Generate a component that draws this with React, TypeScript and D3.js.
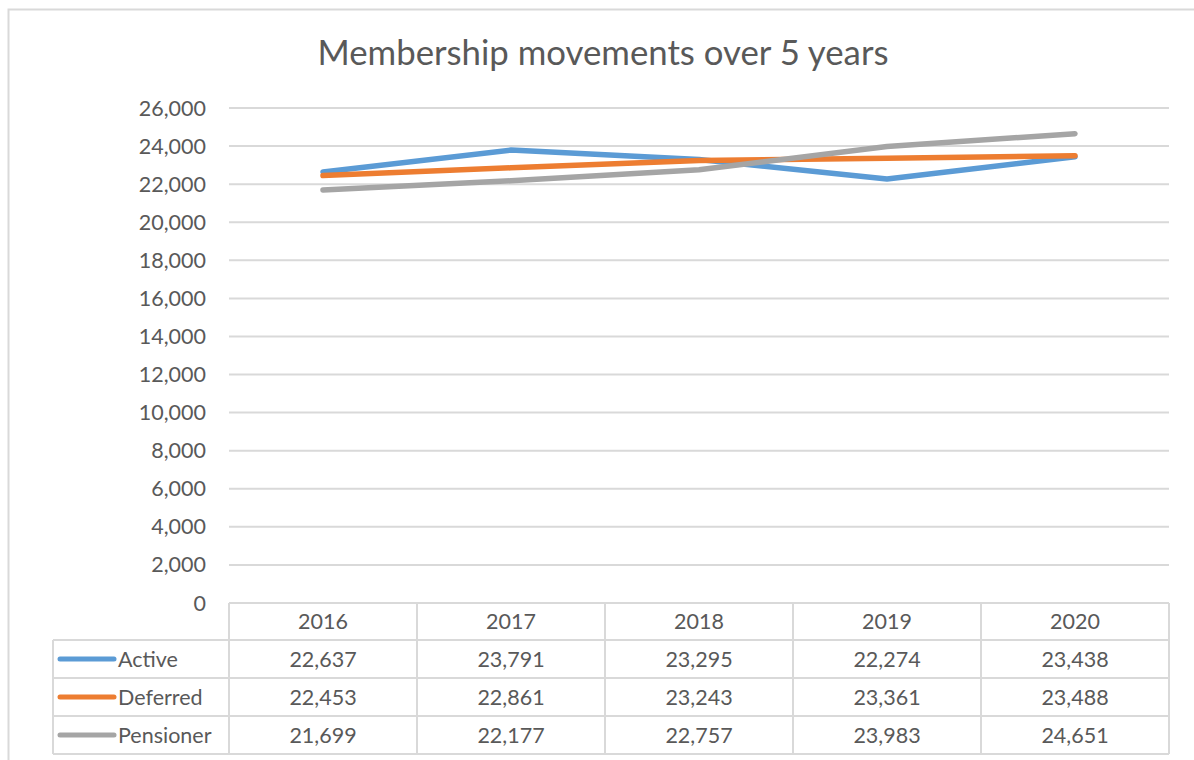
import React from "react";
import * as d3 from "d3";

const years = ["2016", "2017", "2018", "2019", "2020"];
const active = [22637, 23791, 23295, 22274, 23438];
const deferred = [22453, 22861, 23243, 23361, 23488];
const pensioner = [21699, 22177, 22757, 23983, 24651];
const seriesNames = ["Active", "Deferred", "Pensioner"];
const seriesColors = ["#5B9BD5", "#ED7D31", "#A5A5A5"];
const yTicks = [0, 2000, 4000, 6000, 8000, 10000, 12000, 14000, 16000, 18000, 20000, 22000, 24000, 26000];
const title = "Membership movements over 5 years";

const FONT = "Lato, 'Open Sans', sans-serif";
const TEXT = "#595959";
const GRID = "#D9D9D9";
const FS = 21.5;

export default function App() {
  const W = 1194, H = 760;
  const left = 229, right = 1169, top = 108, bottom = 603;
  const x = d3.scaleBand<string>().domain(years).range([left, right]);
  const y = d3.scaleLinear().domain([0, 26000]).range([bottom, top]);
  const fmt = d3.format(",");
  const allSeries = [active, deferred, pensioner];
  const line = d3.line<number>()
    .x((_, i) => (x(years[i]) as number) + x.bandwidth() / 2)
    .y((d) => y(d));

  const rowH = 38;
  const headerBottom = 640;
  const tableLeft = 53;
  const rowTops = [headerBottom, headerBottom + rowH, headerBottom + 2 * rowH];
  const tableBottom = headerBottom + 3 * rowH;

  return (
    <svg width={W} height={H} style={{ position: "absolute", left: 0, top: 0, background: "#fff" }}>
      <rect x={8.5} y={9.5} width={1200} height={800} fill="#fff" stroke={GRID} strokeWidth={2} />
      <text x={603} y={65} textAnchor="middle" fontFamily={FONT} fontSize={34} fill={TEXT} textLength={571} lengthAdjust="spacingAndGlyphs">{title}</text>
      {yTicks.map((t) => (
        <g key={t}>
          <line x1={left} x2={right} y1={y(t)} y2={y(t)} stroke={GRID} strokeWidth={2} />
          <text x={206} y={y(t)} dy="0.35em" textAnchor="end" fontFamily={FONT} fontSize={FS} fill={TEXT}>{fmt(t)}</text>
        </g>
      ))}
      {allSeries.map((s, i) => (
        <path key={i} d={line(s) as string} fill="none" stroke={seriesColors[i]} strokeWidth={5.5} strokeLinecap="round" strokeLinejoin="round" />
      ))}
      {/* data table */}
      <g stroke={GRID} strokeWidth={2} fill="none">
        {years.map((yr, i) => (
          <line key={"v" + i} x1={x(yr) as number} x2={x(yr) as number} y1={bottom} y2={tableBottom} />
        ))}
        <line x1={right} x2={right} y1={bottom} y2={tableBottom} />
        <line x1={tableLeft} x2={tableLeft} y1={headerBottom} y2={tableBottom} />
        {[...rowTops, tableBottom].map((ry, i) => (
          <line key={"h" + i} x1={tableLeft} x2={right} y1={ry} y2={ry} />
        ))}
      </g>
      {years.map((yr) => (
        <text key={yr} x={(x(yr) as number) + x.bandwidth() / 2} y={(bottom + headerBottom) / 2} dy="0.35em" textAnchor="middle" fontFamily={FONT} fontSize={FS} fill={TEXT}>{yr}</text>
      ))}
      {allSeries.map((s, i) => (
        <g key={"r" + i}>
          <line x1={60} x2={114} y1={rowTops[i] + rowH / 2} y2={rowTops[i] + rowH / 2} stroke={seriesColors[i]} strokeWidth={5} strokeLinecap="round" />
          <text x={118} y={rowTops[i] + rowH / 2} dy="0.35em" fontFamily={FONT} fontSize={FS} fill={TEXT}>{seriesNames[i]}</text>
          {s.map((v, j) => (
            <text key={j} x={(x(years[j]) as number) + x.bandwidth() / 2} y={rowTops[i] + rowH / 2} dy="0.35em" textAnchor="middle" fontFamily={FONT} fontSize={FS} fill={TEXT}>{fmt(v)}</text>
          ))}
        </g>
      ))}
    </svg>
  );
}
